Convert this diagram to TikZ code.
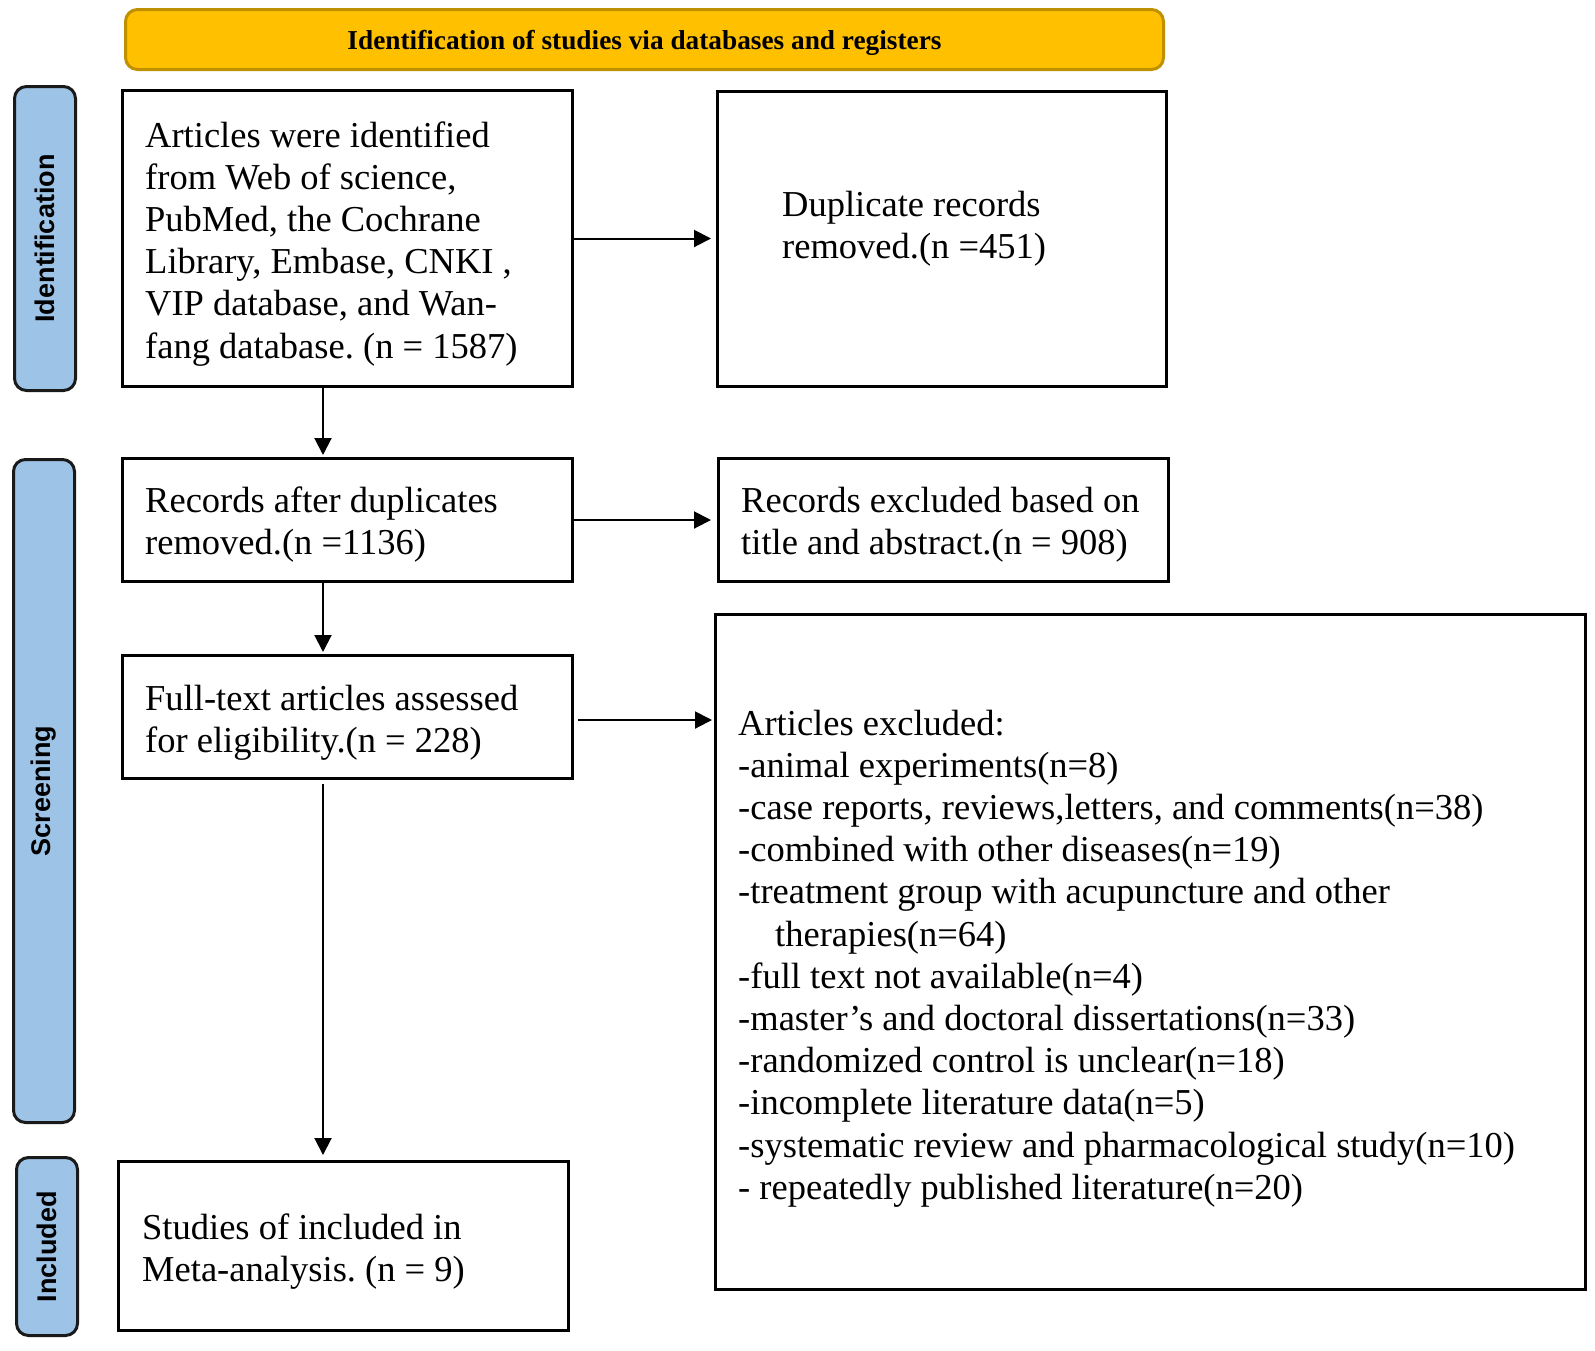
\documentclass[tikz,border=0pt]{standalone}
\usepackage{fontspec}
\setmainfont{Liberation Serif}
\newfontfamily\sidefont{Liberation Sans}
\usetikzlibrary{arrows.meta}
\definecolor{goldfill}{HTML}{FFC000}
\definecolor{goldline}{HTML}{BF9000}
\definecolor{sideblue}{HTML}{9DC3E6}
\definecolor{sideline}{HTML}{1A1A1A}
\newcommand\bodyfont{\fontsize{36.5pt}{42.2pt}\selectfont}
\frenchspacing
\begin{document}
\begin{tikzpicture}[x=1pt,y=-1pt,
  box/.style={draw=black, line width=3pt, inner sep=0pt, fill=white},
  txt/.style={anchor=base west, inner sep=0pt, font=\bodyfont},
  banner/.style={draw=goldline, fill=goldfill, line width=3pt, rounded corners=12pt, inner sep=0pt},
  bantext/.style={inner sep=0pt, font=\fontsize{27.3pt}{30pt}\selectfont\bfseries},
  side/.style={draw=sideline, fill=sideblue, line width=3pt, rounded corners=12pt, inner sep=0pt,
    rotate=90, minimum height=61pt, font=\sidefont\fontsize{27pt}{30pt}\selectfont\bfseries},
  arr/.style={line width=2pt, -{Triangle[length=17pt,width=17pt]}}
]
\useasboundingbox (0,0) rectangle (1595,1350);

% banner
\node[banner, minimum width=1038pt, minimum height=60pt] (ban) at (644.5,39.5) {};
\node[bantext] (bantxt) at ([yshift=-3pt]ban.center) {Identification of studies via databases and registers};

% side labels
\node[side, minimum width=304pt] (sid) at (45,238.5) {Identification};
\node[side, minimum width=663pt] (scr) at (44,791) {Screening};
\node[side, minimum width=178pt] (inc) at (47,1246.5) {Included};

% boxes
\node[box, minimum width=450pt, minimum height=296pt] (b1) at (347.5,238.5) {};
\node[box, minimum width=449pt, minimum height=295pt] (b2) at (942,239) {};
\node[box, minimum width=450pt, minimum height=123pt] (b3) at (347.5,520) {};
\node[box, minimum width=450pt, minimum height=123pt] (b4) at (943.5,520) {};
\node[box, minimum width=450pt, minimum height=123pt] (b5) at (347.5,717) {};
\node[box, minimum width=870pt, minimum height=675pt] (b6) at (1150.5,952) {};
\node[box, minimum width=450pt, minimum height=169pt] (b7) at (343.5,1246) {};

% texts
\node[txt] (t1) at (145,147) {\vtop{%
  \hbox{Articles were identified}
  \hbox{from Web of science,}
  \hbox{PubMed, the Cochrane}
  \hbox{Library, Embase, CNKI ,}
  \hbox{VIP database, and Wan-}
  \hbox{fang database. (n = 1587)}}};
\node[txt] (t2) at (782,216) {\vtop{%
  \hbox{Duplicate records}
  \hbox{removed.(n =451)}}};
\node[txt] (t3) at (145,512) {\vtop{%
  \hbox{Records after duplicates}
  \hbox{removed.(n =1136)}}};
\node[txt] (t4) at (741,512) {\vtop{%
  \hbox{Records excluded based on}
  \hbox{title and abstract.(n = 908)}}};
\node[txt] (t5) at (145,710) {\vtop{%
  \hbox{Full-text articles assessed}
  \hbox{for eligibility.(n = 228)}}};
\node[txt] (t6) at (738,735) {\vtop{%
  \hbox{Articles excluded:}
  \hbox{-animal experiments(n=8)}
  \hbox{-case reports, reviews,letters, and comments(n=38)}
  \hbox{-combined with other diseases(n=19)}
  \hbox{-treatment group with acupuncture and other}
  \hbox{\hskip37pt therapies(n=64)}
  \hbox{-full text not available(n=4)}
  \hbox{-master's and doctoral dissertations(n=33)}
  \hbox{-randomized control is unclear(n=18)}
  \hbox{-incomplete literature data(n=5)}
  \hbox{-systematic review and pharmacological study(n=10)}
  \hbox{- repeatedly published literature(n=20)}}};
\node[txt] (t7) at (142,1239) {\vtop{%
  \hbox{Studies of included in}
  \hbox{Meta-analysis. (n = 9)}}};

% connectors
\draw[arr, shorten >=5pt] (b1.east) -- (b1.east -| b2.west);
\draw[arr, shorten >=6pt] (b3.east) -- (b3.east -| b4.west);
\draw[arr, shorten >=2pt] ([xshift=4pt,yshift=-3pt]b5.east) -- ([yshift=-3pt]b5.east -| b6.west);
\draw[arr, shorten >=2pt] ([xshift=202pt]b1.south west) -- ([xshift=202pt]b3.north west);
\draw[arr, shorten >=2pt] ([xshift=202pt]b3.south west) -- ([xshift=202pt]b5.north west);
\draw[arr, shorten >=5pt] ([xshift=202pt,yshift=-4pt]b5.south west) -- ([xshift=206pt]b7.north west);
\end{tikzpicture}
\end{document}
